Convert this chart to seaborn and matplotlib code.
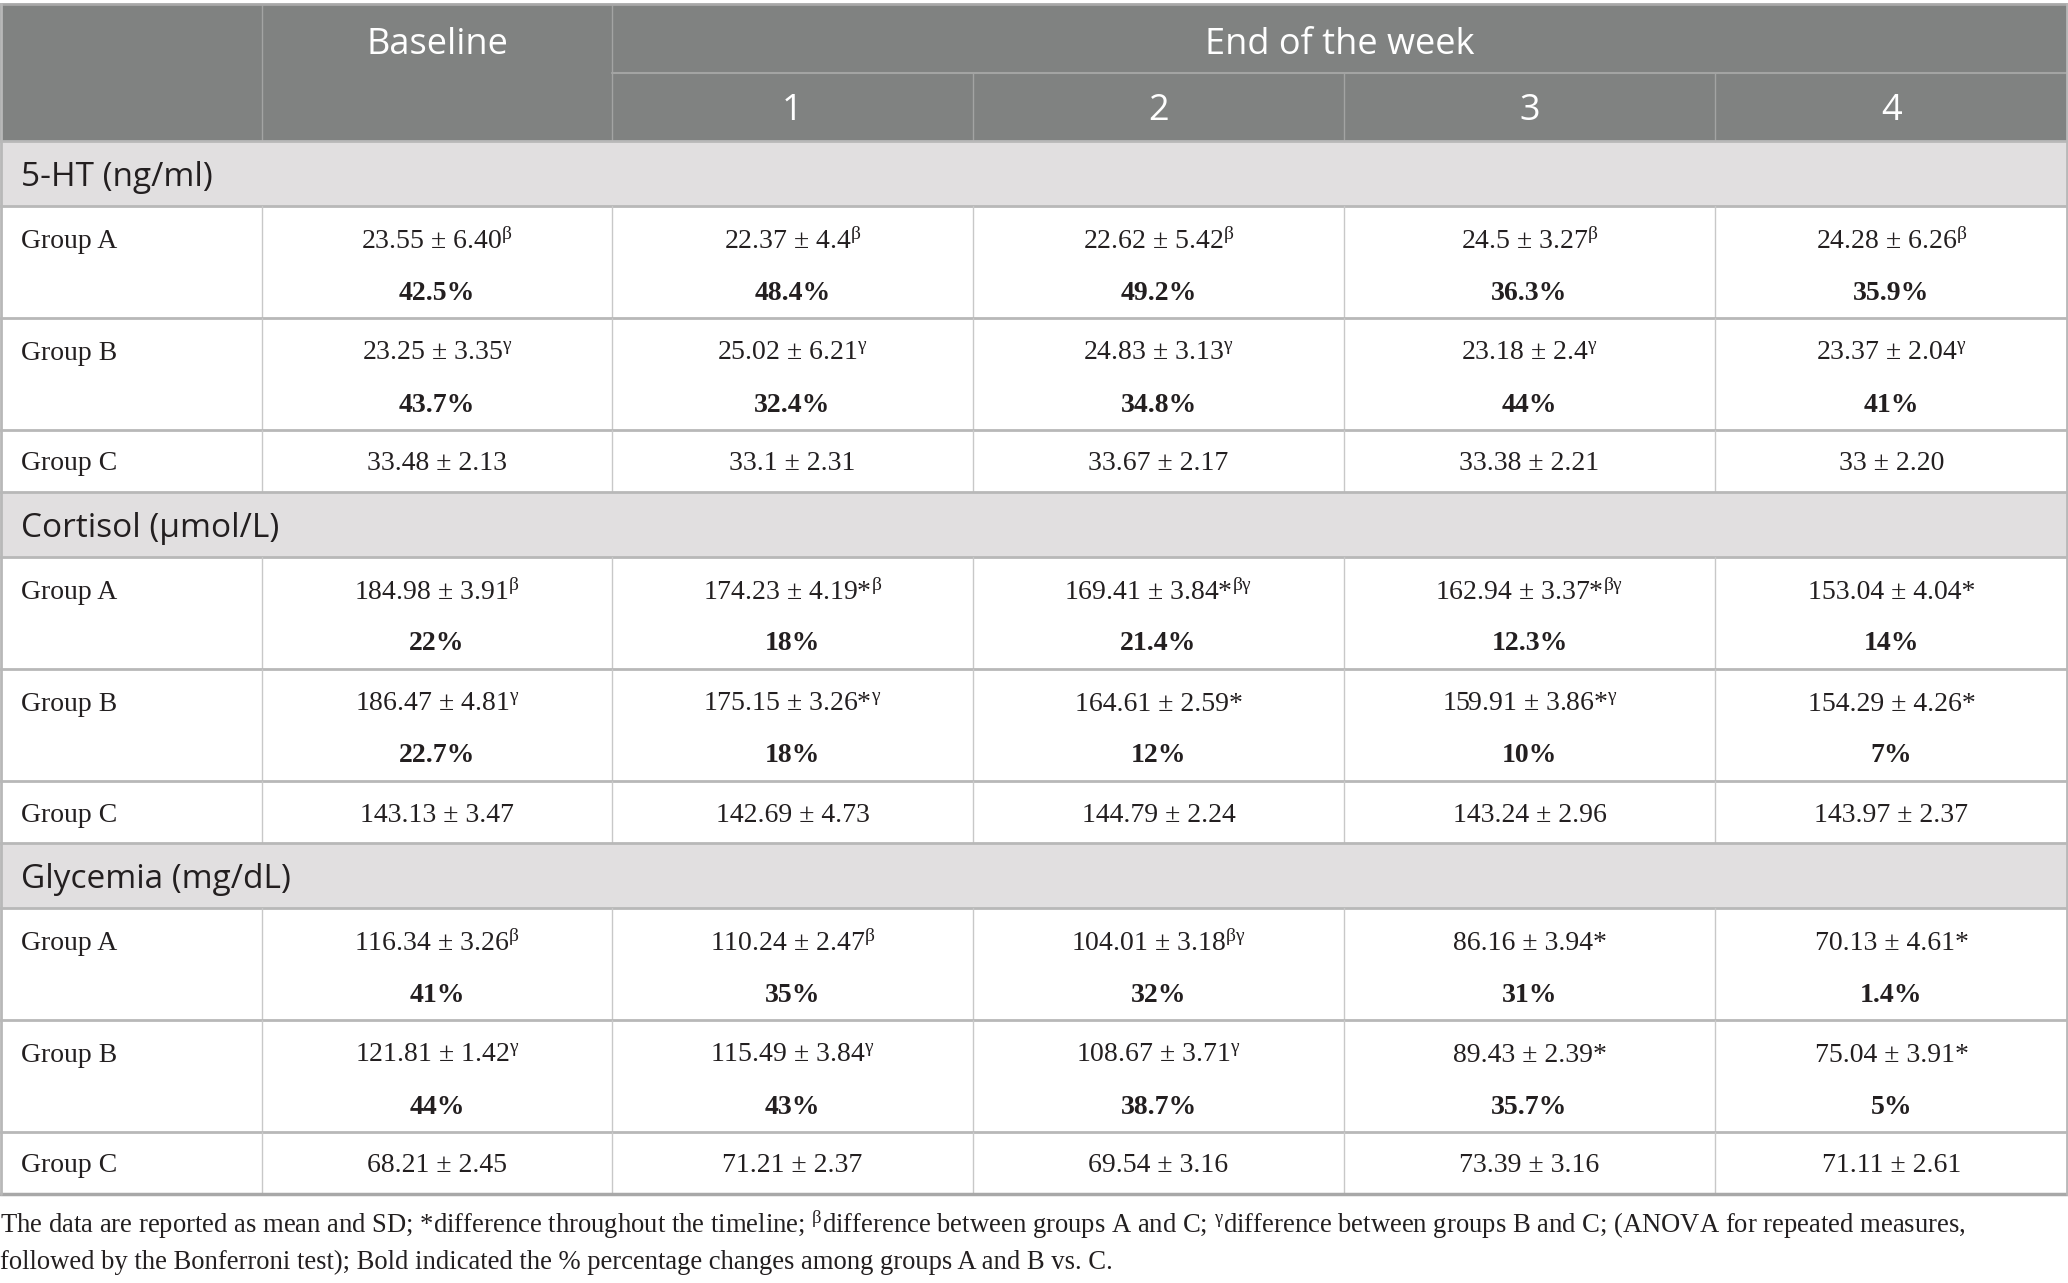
import matplotlib
matplotlib.use("Agg")
import matplotlib.pyplot as plt
import seaborn as sns
from matplotlib.patches import Rectangle

# table content
timepoints = ["Baseline", "1", "2", "3", "4"]
groups = ["Group A", "Group B", "Group C"]
sections = ["5-HT (ng/ml)", "Cortisol (\u00b5mol/L)", "Glycemia (mg/dL)"]

# 5-HT
ht_mean = [["23.55", "22.37", "22.62", "24.5", "24.28"],
           ["23.25", "25.02", "24.83", "23.18", "23.37"],
           ["33.48", "33.1", "33.67", "33.38", "33"]]
ht_sd = [["6.40", "4.4", "5.42", "3.27", "6.26"],
         ["3.35", "6.21", "3.13", "2.4", "2.04"],
         ["2.13", "2.31", "2.17", "2.21", "2.20"]]
ht_mark = [["b", "b", "b", "b", "b"],
           ["g", "g", "g", "g", "g"],
           ["", "", "", "", ""]]
ht_pct = [["42.5%", "48.4%", "49.2%", "36.3%", "35.9%"],
          ["43.7%", "32.4%", "34.8%", "44%", "41%"]]

# Cortisol
cort_mean = [["184.98", "174.23", "169.41", "162.94", "153.04"],
             ["186.47", "175.15", "164.61", "159.91", "154.29"],
             ["143.13", "142.69", "144.79", "143.24", "143.97"]]
cort_sd = [["3.91", "4.19", "3.84", "3.37", "4.04"],
           ["4.81", "3.26", "2.59", "3.86", "4.26"],
           ["3.47", "4.73", "2.24", "2.96", "2.37"]]
cort_mark = [["b", "*b", "*bg", "*bg", "*"],
             ["g", "*g", "*", "*g", "*"],
             ["", "", "", "", ""]]
cort_pct = [["22%", "18%", "21.4%", "12.3%", "14%"],
            ["22.7%", "18%", "12%", "10%", "7%"]]

# Glycemia
gly_mean = [["116.34", "110.24", "104.01", "86.16", "70.13"],
            ["121.81", "115.49", "108.67", "89.43", "75.04"],
            ["68.21", "71.21", "69.54", "73.39", "71.11"]]
gly_sd = [["3.26", "2.47", "3.18", "3.94", "4.61"],
          ["1.42", "3.84", "3.71", "2.39", "3.91"],
          ["2.45", "2.37", "3.16", "3.16", "2.61"]]
gly_mark = [["b", "b", "bg", "*", "*"],
            ["g", "g", "g", "*", "*"],
            ["", "", "", "", ""]]
gly_pct = [["41%", "35%", "32%", "31%", "1.4%"],
           ["44%", "43%", "38.7%", "35.7%", "5%"]]

footnote = ["The data are reported as mean and SD; *difference throughout the timeline; "
            "$^{\\mathrm{\\beta}}$difference between groups A and C; $^{\\mathrm{\\gamma}}$difference "
            "between groups B and C; (ANOVA for repeated measures,",
            "followed by the Bonferroni test); Bold indicated the % percentage changes among groups A and B vs. C."]

blocks = [(ht_mean, ht_sd, ht_mark, ht_pct),
          (cort_mean, cort_sd, cort_mark, cort_pct),
          (gly_mean, gly_sd, gly_mark, gly_pct)]

sns.set_theme(style="white")
plt.rcParams["mathtext.fontset"] = "custom"
plt.rcParams["mathtext.rm"] = "Liberation Serif"
plt.rcParams["mathtext.it"] = "Liberation Serif:italic"
plt.rcParams["font.family"] = ["Liberation Serif", "DejaVu Serif"]

HEAD = "#808281"
SECT = "#e1dfe0"
LINE = "#b8b8b8"
VLINE = "#c8c8c8"
TXT = "#231f20"
SANS = ["Open Sans", "DejaVu Sans"]
SERIF = ["Liberation Serif", "DejaVu Serif"]

W, H = 2068, 1283
fig = plt.figure(figsize=(W / 100, H / 100), dpi=100)
ax = fig.add_axes([0, 0, 1, 1])
ax.set_xlim(0, W)
ax.set_ylim(H, 0)
ax.axis("off")

col_edges = [0, 262, 612, 973, 1344, 1715, 2068]
top = 4
head_h = 137
sect_h = 65
tall_h = 112
short_h = 62


def cell_text(mean, sd, mark):
    s = f"{mean} \u00b1 {sd}"
    if "*" in mark:
        s += "*"
    greek = mark.replace("*", "").replace("b", "\\beta").replace("g", "\\gamma")
    if greek:
        s += "$^{\\mathrm{" + greek + "}}$"
    return s


# header
ax.add_patch(Rectangle((0, top), W, head_h, color=HEAD, lw=0))
mid = top + head_h / 2
ax.plot([col_edges[2], W], [mid, mid], color="#a3a4a3", lw=1.5)
for x in col_edges[1:3]:
    ax.plot([x, x], [top, top + head_h], color="#a3a4a3", lw=1)
for x in col_edges[3:6]:
    ax.plot([x, x], [mid, top + head_h], color="#a3a4a3", lw=1)
ax.text((col_edges[1] + col_edges[2]) / 2, top + 41, timepoints[0], color="white",
        fontsize=26, family=SANS, ha="center", va="center")
ax.text((col_edges[2] + W) / 2, top + 41, "End of the week", color="white",
        fontsize=26, family=SANS, ha="center", va="center")
for j in range(1, 5):
    cx = (col_edges[j + 1] + col_edges[j + 2]) / 2
    ax.text(cx, mid + 39, timepoints[j], color="white", fontsize=26, family=SANS,
            ha="center", va="center")
ax.plot([0, W], [top, top], color="#a8a8a8", lw=2)

y = top + head_h
for name, (means, sds, marks, pcts) in zip(sections, blocks):
    ax.add_patch(Rectangle((0, y), W, sect_h, color=SECT, lw=0))
    ax.text(21, y + sect_h / 2 + 4, name, color=TXT, fontsize=24, family=SANS,
            ha="left", va="center")
    ax.plot([0, W], [y, y], color=LINE, lw=2)
    y += sect_h
    for i, g in enumerate(groups):
        h = tall_h if i < 2 else short_h
        ax.plot([0, W], [y, y], color=LINE, lw=2)
        for x in col_edges[1:-1]:
            ax.plot([x, x], [y, y + h], color=VLINE, lw=1)
        line1 = y + 35.5 if i < 2 else y + h / 2 + 3
        ax.text(21, line1, g, color=TXT, fontsize=20, family=SERIF, ha="left", va="center")
        for j in range(5):
            cx = (col_edges[j + 1] + col_edges[j + 2]) / 2
            ax.text(cx, line1, cell_text(means[i][j], sds[i][j], marks[i][j]), color=TXT,
                    fontsize=20, family=SERIF, ha="center", va="center")
            if i < 2:
                ax.text(cx, y + 87, pcts[i][j], color=TXT, fontsize=20, family=SERIF,
                        weight="bold", ha="center", va="center")
        y += h

ax.plot([0, W], [y, y], color="#a8a8a8", lw=2.5)
ax.plot([0.5, 0.5], [top, y], color=LINE, lw=2)
ax.plot([W - 1, W - 1], [top, y], color=LINE, lw=2)

ax.text(0, 1225, footnote[0], color=TXT, fontsize=19.2, family=SERIF, ha="left", va="center")
ax.text(0, 1262, footnote[1], color=TXT, fontsize=19.2, family=SERIF, ha="left", va="center")

fig.savefig("out.png", dpi=100, facecolor="white")
